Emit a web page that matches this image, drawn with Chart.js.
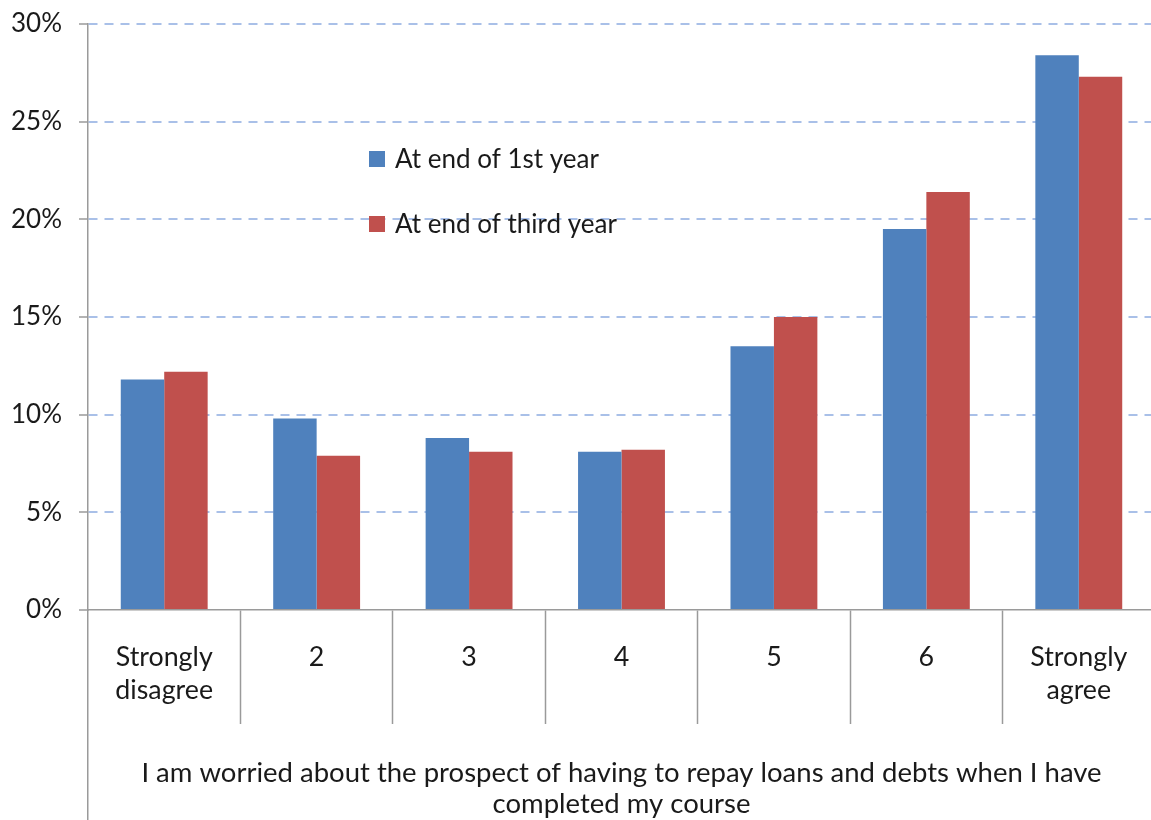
<!DOCTYPE html>
<html>
<head>
<meta charset="utf-8">
<title>Loan worries</title>
<script src="https://cdn.jsdelivr.net/npm/chart.js@4.4.1/dist/chart.umd.min.js"></script>
<style>
  html, body { margin: 0; padding: 0; background: #fff; overflow: hidden; }
  #wrap { position: relative; width: 1156px; height: 820px; }
</style>
</head>
<body>
<div id="wrap"><canvas id="worries"></canvas></div>
<script>
// survey answers, % of students
const categories = [['Strongly', 'disagree'], '2', '3', '4', '5', '6', ['Strongly', 'agree']];
const firstYear = [11.8, 9.8, 8.8, 8.1, 13.5, 19.5, 28.4];
const thirdYear = [12.2, 7.9, 8.1, 8.2, 15.0, 21.4, 27.3];
const seriesNames = ['At end of 1st year', 'At end of third year'];
const yMax = 30;
const yStep = 5;
const question = ['I am worried about the prospect of having to repay loans and debts when I have', 'completed my course'];

const FONT = 'Lato, "DejaVu Sans", sans-serif';
const AXIS_GREY = '#9a9a9a';

// legend sits inside the plot, drawn by hand
const innerLegend = {
  id: 'innerLegend',
  afterDraw(chart) {
    const ctx = chart.ctx;
    ctx.save();
    ctx.font = '26px ' + FONT;
    ctx.textBaseline = 'middle';
    chart.data.datasets.forEach((ds, i) => {
      const y = 159 + i * 65;
      ctx.fillStyle = ds.backgroundColor;
      ctx.fillRect(369, y - 8, 16, 16);
      ctx.fillStyle = '#1a1a1a';
      ctx.fillText(ds.label, 395, y + 1);
    });
    ctx.restore();
  }
};

// y axis line runs on past the category band to the bottom edge
const axisExtend = {
  id: 'axisExtend',
  afterDraw(chart) {
    const ctx = chart.ctx;
    const x = Math.round(chart.chartArea.left - 0.75) + 0.75;
    ctx.save();
    ctx.strokeStyle = AXIS_GREY;
    ctx.lineWidth = 1.5;
    ctx.beginPath();
    ctx.moveTo(x, chart.chartArea.bottom);
    ctx.lineTo(x, chart.height);
    ctx.stroke();
    ctx.restore();
  }
};

new Chart(document.getElementById('worries'), {
  type: 'bar',
  data: {
    labels: categories,
    datasets: [
      {
        label: seriesNames[0],
        data: firstYear,
        backgroundColor: '#4F81BD',
      },
      {
        label: seriesNames[1],
        data: thirdYear,
        backgroundColor: '#C0504D',
      }
    ]
  },
  options: {
    responsive: true,
    maintainAspectRatio: false,
    animation: false,
    layout: { padding: { top: 24, right: 1, bottom: 0, left: 0 } },
    datasets: {
      bar: { categoryPercentage: 0.57, barPercentage: 1.0 }
    },
    plugins: {
      legend: { display: false },
      tooltip: { enabled: false }
    },
    scales: {
      x: {
        afterFit(scale) { scale.height = 210; },
        grid: {
          offset: true,
          drawOnChartArea: false,
          drawTicks: true,
          tickLength: 114,
          tickColor: ctx => ctx.index === 0 ? 'rgba(0,0,0,0)' : AXIS_GREY,
          tickWidth: 1.5
        },
        border: { color: AXIS_GREY, width: 1.5 },
        ticks: {
          padding: -83,
          color: '#1a1a1a',
          maxRotation: 0,
          autoSkip: false,
          font: { family: FONT, size: 26.8, lineHeight: 1.23 }
        },
        title: {
          display: true,
          text: question,
          color: '#1a1a1a',
          font: { family: FONT, size: 27.5, lineHeight: 1.14 },
          padding: { top: 50, bottom: 0 }
        }
      },
      y: {
        min: 0,
        max: yMax,
        afterFit(scale) {
          scale.width = 88;
          scale.paddingTop = 0;
          scale.paddingBottom = 0;
        },
        ticks: {
          stepSize: yStep,
          padding: 17,
          color: '#1a1a1a',
          font: { family: FONT, size: 26 },
          callback: v => v + '%'
        },
        grid: {
          color: ctx => ctx.tick && ctx.tick.value === 0 ? 'rgba(0,0,0,0)' : '#A9C0E8',
          lineWidth: 2,
          tickLength: 9,
          tickColor: AXIS_GREY,
          tickWidth: 1.5
        },
        border: { color: AXIS_GREY, width: 1.5, dash: [9, 7] }
      }
    }
  },
  plugins: [innerLegend, axisExtend]
});
</script>
</body>
</html>
